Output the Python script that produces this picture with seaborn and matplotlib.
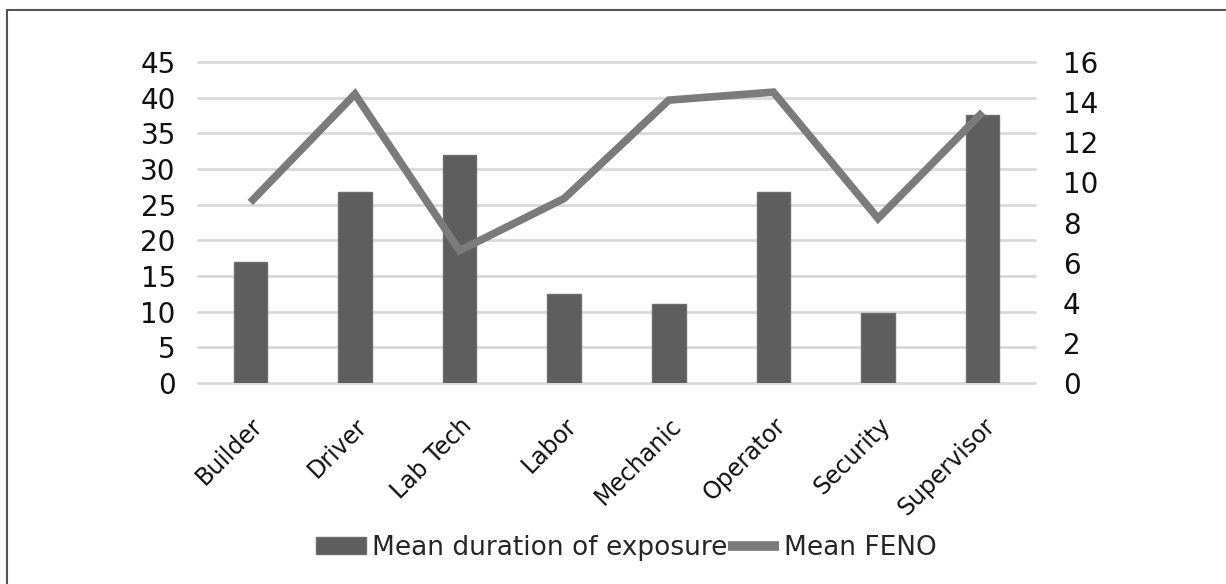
import matplotlib
matplotlib.use("Agg")
import matplotlib.pyplot as plt
from matplotlib.lines import Line2D
from matplotlib.patches import Patch
import pandas as pd
import seaborn as sns

# Datos
ocupaciones = ["Builder", "Driver", "Lab Tech", "Labor", "Mechanic",
               "Operator", "Security", "Supervisor"]
duracion_media = [17, 26.8, 31.9, 12.5, 11.1, 26.8, 9.8, 37.6]
feno_medio = [9.0, 14.4, 6.6, 9.2, 14.1, 14.5, 8.2, 13.5]

df = pd.DataFrame({"ocupacion": ocupaciones,
                   "duracion": duracion_media,
                   "feno": feno_medio})

sns.set_style("white")
plt.rcParams["font.family"] = ["DejaVu Sans"]

fig = plt.figure(figsize=(12.26, 5.84), dpi=100)
ax = fig.add_axes([0.1615, 0.3442, 0.6827, 0.5496])

color_barra = "#5e5e5e"
color_linea = "#7b7b7b"

# Barras: duración media de exposición (eje izquierdo)
sns.barplot(data=df, x="ocupacion", y="duracion", color=color_barra,
            width=0.32, saturation=1, edgecolor="#6e6e6e", linewidth=1,
            ax=ax, zorder=2)
ax.set_ylim(0, 45)
ax.set_yticks(range(0, 46, 5))
ax.set_xlim(-0.5, len(ocupaciones) - 0.5)
ax.yaxis.grid(True, color="#d9d9d9", linewidth=2)
for gl in ax.yaxis.get_gridlines():
    gl.set_clip_on(False)
ax.set_axisbelow(True)
ax.set_xlabel("")
ax.set_ylabel("")
ax.tick_params(axis="y", length=0, pad=16, labelsize=20, labelcolor="#111111")
ax.tick_params(axis="x", length=0, pad=22, labelsize=17, labelcolor="#111111")
for lab in ax.get_xticklabels():
    lab.set_rotation(45)
    lab.set_ha("right")
    lab.set_va("top")
    lab.set_rotation_mode("anchor")
for s in ax.spines.values():
    s.set_visible(False)

# Línea: FENO medio (eje derecho)
ax2 = ax.twinx()
sns.lineplot(data=df, x="ocupacion", y="feno", sort=False, color=color_linea,
             linewidth=5.5, ax=ax2, zorder=3)
for ln in ax2.get_lines():
    ln.set_solid_capstyle("butt")
    ln.set_solid_joinstyle("miter")
ax2.set_ylim(0, 16)
ax2.set_yticks(range(0, 17, 2))
ax2.set_ylabel("")
ax2.grid(False)
ax2.tick_params(axis="y", length=0, pad=20, labelsize=20, labelcolor="#111111")
for s in ax2.spines.values():
    s.set_visible(False)

# Leyenda abajo
handles = [Patch(facecolor=color_barra, edgecolor="#6e6e6e"),
           Line2D([0], [0], color=color_linea, linewidth=7,
                  solid_capstyle="butt")]
fig.legend(handles, ["Mean duration of exposure", "Mean FENO"],
           loc="center", bbox_to_anchor=(0.511, 0.062), ncol=2, frameon=False,
           fontsize=19, handlelength=1.9, handleheight=0.6,
           handletextpad=0.2, columnspacing=0.05)

# Marco (solo arriba e izquierda visibles)
y_top = 1 - 10 / 584
x_left = 7 / 1226
fig.add_artist(Line2D([x_left, 1], [y_top, y_top], color="#555555",
                      linewidth=1.5, transform=fig.transFigure))
fig.add_artist(Line2D([x_left, x_left], [0, y_top], color="#555555",
                      linewidth=1.5, transform=fig.transFigure))

fig.savefig("out.png", dpi=100, facecolor="white")
